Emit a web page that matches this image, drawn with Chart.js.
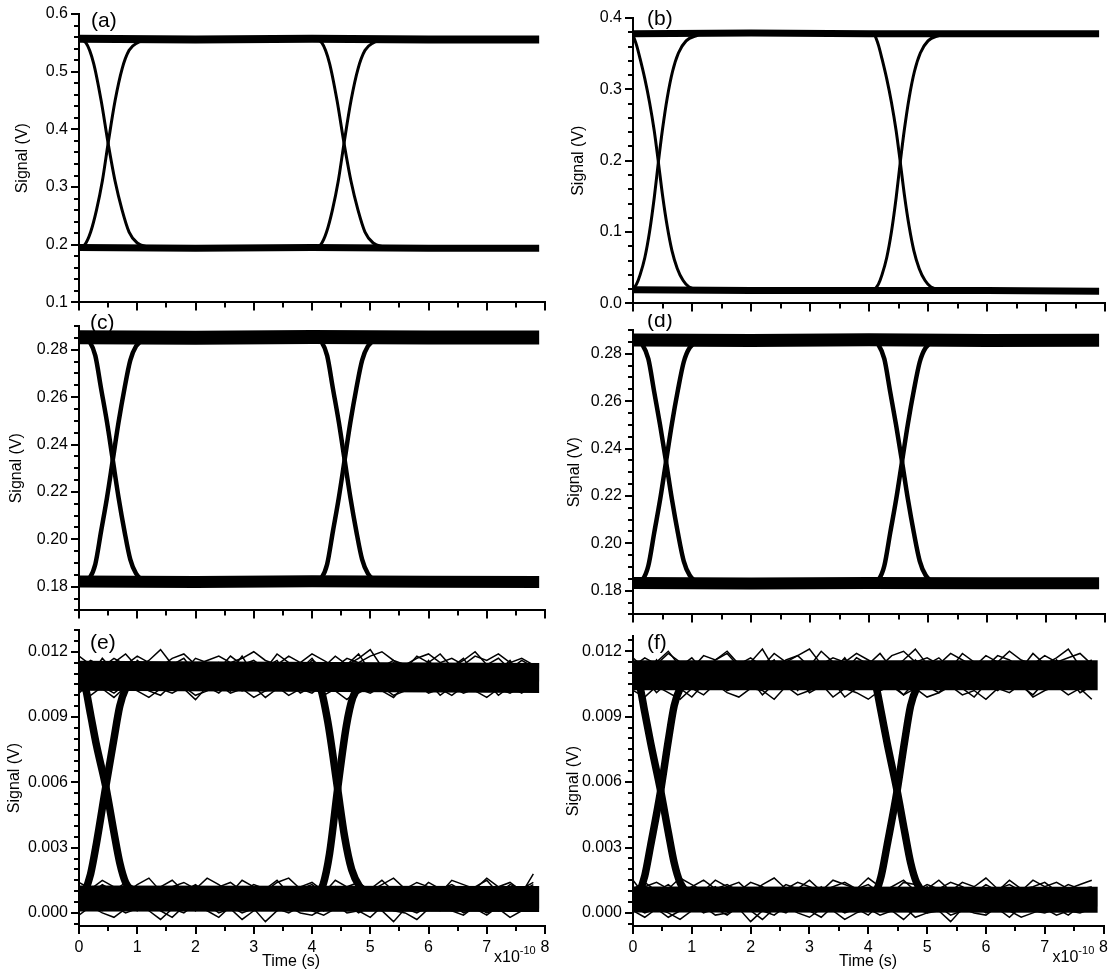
<!DOCTYPE html>
<html lang="en">
<head>
<meta charset="UTF-8">
<title>Eye diagrams (a)-(f)</title>
<script src="https://cdn.jsdelivr.net/npm/chart.js@4.4.0/dist/chart.umd.min.js"></script>
<style>
  body { margin: 0; background: #fff; }
  #wrap { position: relative; width: 1112px; height: 970px; overflow: hidden; }
  #wrap canvas { position: absolute; }
</style>
</head>
<body>
<div id="wrap"></div>
<script>
// ---------- data ----------
// time axis in units of 1e-10 s
var xTicks = [0, 1, 2, 3, 4, 5, 6, 7, 8];
var xTickLabels = ['0', '1', '2', '3', '4', '5', '6', '7', '8'];
var panelNames = ['(a)', '(b)', '(c)', '(d)', '(e)', '(f)'];

// y ticks per panel
var aTicks = [0.1, 0.2, 0.3, 0.4, 0.5, 0.6];
var aTickLabels = ['0.1', '0.2', '0.3', '0.4', '0.5', '0.6'];
var bTicks = [0, 0.1, 0.2, 0.3, 0.4];
var bTickLabels = ['0.0', '0.1', '0.2', '0.3', '0.4'];
var cdTicks = [0.18, 0.20, 0.22, 0.24, 0.26, 0.28];
var cdTickLabels = ['0.18', '0.20', '0.22', '0.24', '0.26', '0.28'];
var efTicks = [0, 0.003, 0.006, 0.009, 0.012];
var efTickLabels = ['0.000', '0.003', '0.006', '0.009', '0.012'];

// panel (a): [time, volts]
var aHigh = [[0, 0.557], [2, 0.556], [4, 0.557], [6, 0.556], [7.9, 0.556]];
var aLow = [[0, 0.195], [2, 0.194], [4, 0.195], [6, 0.194], [7.9, 0.194]];
var aFall1 = [[0, 0.556], [0.12, 0.550], [0.25, 0.515], [0.38, 0.450], [0.5, 0.376], [0.62, 0.310], [0.74, 0.260], [0.86, 0.222], [1.0, 0.203], [1.2, 0.196]];
var aRise1 = [[0, 0.195], [0.1, 0.200], [0.2, 0.222], [0.3, 0.260], [0.4, 0.310], [0.5, 0.376], [0.62, 0.450], [0.74, 0.505], [0.86, 0.537], [1.0, 0.550], [1.25, 0.555]];
var aFall2 = [[4.05, 0.556], [4.17, 0.550], [4.30, 0.515], [4.43, 0.450], [4.55, 0.376], [4.67, 0.310], [4.79, 0.260], [4.91, 0.222], [5.05, 0.203], [5.25, 0.196]];
var aRise2 = [[4.05, 0.195], [4.15, 0.200], [4.25, 0.222], [4.35, 0.260], [4.45, 0.310], [4.55, 0.376], [4.67, 0.450], [4.79, 0.505], [4.91, 0.537], [5.05, 0.550], [5.3, 0.555]];

// panel (b)
var bHigh = [[0, 0.378], [2, 0.379], [4, 0.378], [6, 0.378], [7.9, 0.378]];
var bLow = [[0, 0.019], [2, 0.018], [4, 0.018], [6, 0.018], [7.9, 0.017]];
var bFall1 = [[0, 0.376], [0.06, 0.362], [0.12, 0.343], [0.2, 0.315], [0.28, 0.282], [0.36, 0.242], [0.43, 0.198], [0.5, 0.152], [0.58, 0.108], [0.66, 0.074], [0.75, 0.049], [0.85, 0.032], [0.95, 0.023], [1.15, 0.019]];
var bRise1 = [[0, 0.020], [0.06, 0.027], [0.12, 0.040], [0.2, 0.064], [0.28, 0.100], [0.36, 0.148], [0.43, 0.198], [0.5, 0.244], [0.58, 0.288], [0.67, 0.325], [0.77, 0.351], [0.9, 0.368], [1.1, 0.376]];
var bFall2 = [[4.1, 0.376], [4.16, 0.362], [4.22, 0.343], [4.30, 0.315], [4.38, 0.282], [4.46, 0.242], [4.53, 0.198], [4.60, 0.152], [4.68, 0.108], [4.76, 0.074], [4.85, 0.049], [4.95, 0.032], [5.05, 0.023], [5.25, 0.019]];
var bRise2 = [[4.1, 0.020], [4.16, 0.027], [4.22, 0.040], [4.30, 0.064], [4.38, 0.100], [4.46, 0.148], [4.53, 0.198], [4.60, 0.244], [4.68, 0.288], [4.77, 0.325], [4.87, 0.351], [5.0, 0.368], [5.2, 0.376]];

// panel (c)
var cHigh = [[0, 0.2853], [2, 0.2850], [4, 0.2854], [6, 0.2851], [7.9, 0.2852]];
var cLow = [[0, 0.1822], [2, 0.1820], [4, 0.1823], [6, 0.1821], [7.9, 0.1820]];
var cFall1 = [[0, 0.2855], [0.1, 0.285], [0.18, 0.2835], [0.28, 0.2775], [0.38, 0.2635], [0.48, 0.2495], [0.58, 0.2335], [0.68, 0.2175], [0.78, 0.2035], [0.88, 0.1915], [0.98, 0.1855], [1.13, 0.1825], [1.3, 0.182]];
var cRise1 = [[0, 0.182], [0.1, 0.1823], [0.18, 0.1835], [0.28, 0.1895], [0.38, 0.2035], [0.48, 0.2175], [0.58, 0.2335], [0.68, 0.2495], [0.78, 0.2635], [0.88, 0.2755], [0.98, 0.2815], [1.13, 0.2845], [1.3, 0.2855]];
var cFall2 = [[3.98, 0.2855], [4.08, 0.285], [4.16, 0.2835], [4.26, 0.2775], [4.36, 0.2635], [4.46, 0.2495], [4.56, 0.2335], [4.66, 0.2175], [4.76, 0.2035], [4.86, 0.1915], [4.96, 0.1855], [5.11, 0.1825], [5.28, 0.182]];
var cRise2 = [[3.98, 0.182], [4.08, 0.1823], [4.16, 0.1835], [4.26, 0.1895], [4.36, 0.2035], [4.46, 0.2175], [4.56, 0.2335], [4.66, 0.2495], [4.76, 0.2635], [4.86, 0.2755], [4.96, 0.2815], [5.11, 0.2845], [5.28, 0.2855]];

// panel (d)
var dHigh = [[0, 0.2858], [2, 0.2856], [4, 0.2859], [6, 0.2856], [7.9, 0.2857]];
var dLow = [[0, 0.1832], [2, 0.1830], [4, 0.1833], [6, 0.1831], [7.9, 0.1831]];
var dFall1 = [[0, 0.2858], [0.08, 0.2853], [0.16, 0.2838], [0.26, 0.2778], [0.36, 0.2638], [0.46, 0.2498], [0.56, 0.2345], [0.66, 0.2185], [0.76, 0.2045], [0.86, 0.1925], [0.96, 0.1865], [1.11, 0.1835], [1.3, 0.1832]];
var dRise1 = [[0, 0.1832], [0.08, 0.1835], [0.16, 0.1845], [0.26, 0.1905], [0.36, 0.2045], [0.46, 0.2185], [0.56, 0.2345], [0.66, 0.2505], [0.76, 0.2645], [0.86, 0.2765], [0.96, 0.2825], [1.11, 0.2852], [1.3, 0.2858]];
var dFall2 = [[4.0, 0.2858], [4.08, 0.2853], [4.16, 0.2838], [4.26, 0.2778], [4.36, 0.2638], [4.46, 0.2498], [4.56, 0.2345], [4.66, 0.2185], [4.76, 0.2045], [4.86, 0.1925], [4.96, 0.1865], [5.11, 0.1835], [5.3, 0.1832]];
var dRise2 = [[4.0, 0.1832], [4.08, 0.1835], [4.16, 0.1845], [4.26, 0.1905], [4.36, 0.2045], [4.46, 0.2185], [4.56, 0.2345], [4.66, 0.2505], [4.76, 0.2645], [4.86, 0.2765], [4.96, 0.2825], [5.11, 0.2852], [5.3, 0.2858]];

// panel (e): dense cores and edges [time, volts]
var eHighCore = [[0, 0.0109], [7.9, 0.0108]];
var eLowCore = [[0, 0.00066], [7.9, 0.00064]];
var eFall1 = [[0, 0.0113], [0.1, 0.0105], [0.2, 0.0091], [0.3, 0.0077], [0.46, 0.0058], [0.6, 0.0037], [0.7, 0.0023], [0.8, 0.0014], [0.95, 0.0009], [1.1, 0.0007]];
var eRise1 = [[0, 0.0006], [0.1, 0.0010], [0.2, 0.0018], [0.3, 0.0032], [0.46, 0.0058], [0.6, 0.0080], [0.7, 0.0095], [0.8, 0.0103], [0.95, 0.0108], [1.1, 0.0109]];
var eFall2 = [[4.0, 0.0109], [4.13, 0.0105], [4.27, 0.0088], [4.44, 0.0057], [4.56, 0.0035], [4.68, 0.0020], [4.82, 0.0012], [5.0, 0.0008], [5.15, 0.0007]];
var eRise2 = [[3.95, 0.0006], [4.08, 0.0008], [4.19, 0.0013], [4.30, 0.0027], [4.44, 0.0057], [4.59, 0.0086], [4.70, 0.0099], [4.85, 0.0105], [5.05, 0.0108], [5.2, 0.0109]];

// panel (f)
var fHighCore = [[0, 0.0109], [7.9, 0.0109]];
var fLowCore = [[0, 0.00062], [7.9, 0.00060]];
var fFall1 = [[0, 0.0112], [0.1, 0.0106], [0.2, 0.0092], [0.3, 0.0078], [0.47, 0.0056], [0.6, 0.0037], [0.7, 0.0023], [0.8, 0.0014], [0.95, 0.0009], [1.1, 0.0007]];
var fRise1 = [[0, 0.0005], [0.1, 0.0009], [0.2, 0.0017], [0.3, 0.0031], [0.47, 0.0056], [0.6, 0.0079], [0.7, 0.0095], [0.8, 0.0103], [0.95, 0.0108], [1.1, 0.0109]];
var fFall2 = [[4.02, 0.0109], [4.12, 0.0105], [4.22, 0.0092], [4.32, 0.0078], [4.49, 0.0056], [4.62, 0.0037], [4.72, 0.0023], [4.82, 0.0014], [4.97, 0.0009], [5.12, 0.0007]];
var fRise2 = [[4.02, 0.0006], [4.12, 0.0009], [4.22, 0.0017], [4.32, 0.0031], [4.49, 0.0056], [4.62, 0.0079], [4.72, 0.0095], [4.82, 0.0103], [4.97, 0.0108], [5.12, 0.0109]];

// noisy single traces for (e) and (f): sample times, values in units of 0.1 mV
var noiseT = [0, 0.2, 0.4, 0.6, 0.8, 1, 1.2, 1.4, 1.6, 1.8, 2, 2.2, 2.4, 2.6, 2.8, 3, 3.2, 3.4, 3.6, 3.8,
  4, 4.2, 4.4, 4.6, 4.8, 5, 5.2, 5.4, 5.6, 5.8, 6, 6.2, 6.4, 6.6, 6.8, 7, 7.2, 7.4, 7.6, 7.8];
var eHi1 = [112,116,113,117,114,118,115,113,117,119,114,116,118,115,117,120,116,114,118,115,119,116,113,117,115,118,120,116,114,117,119,115,117,114,118,116,119,115,117,114];
var eHi2 = [103,100,104,101,105,102,99,103,101,104,100,102,105,101,103,99,102,104,100,103,101,105,102,98,103,101,104,100,102,105,101,103,100,104,102,99,103,101,104,102];
var eHi3 = [118,114,110,115,119,113,116,121,114,111,117,115,112,118,114,116,112,119,115,111,116,113,118,114,117,121,113,116,112,118,115,119,113,116,120,114,117,112,116,113];
var eHi4 = [101,106,103,99,104,107,102,100,105,103,98,104,101,106,102,104,99,103,106,101,104,100,103,107,101,104,102,99,105,102,106,100,104,101,103,106,100,104,101,105];
var eHi5 = [110,104,113,107,101,111,106,114,103,109,112,105,110,102,113,107,111,104,109,113,106,101,111,108,104,112,107,113,103,110,106,112,104,109,111,105,112,107,103,110];
var eHi6 = [115,109,117,111,106,116,112,108,114,117,110,107,115,111,118,109,113,116,108,112,117,110,106,114,119,111,108,115,112,107,116,110,113,117,109,114,111,116,108,112];
var eLo1 = [12,9,13,10,14,11,8,12,15,10,13,9,12,14,10,13,11,15,9,12,14,10,12,8,13,11,15,10,12,9,14,11,13,10,12,15,9,13,11,14];
var eLo2 = [2,4,1,3,0,2,5,1,-2,3,1,4,0,2,-3,1,4,2,0,3,1,-1,2,4,0,3,1,-4,2,0,3,1,4,0,2,-1,3,1,2,4];
var eLo3 = [8,3,6,10,4,1,7,11,5,2,9,6,3,8,12,4,7,2,10,5,8,1,6,11,3,7,9,2,5,10,6,3,8,4,11,5,1,7,9,18];
var eLo4 = [4,9,6,2,8,11,5,3,9,7,1,6,10,4,8,2,7,11,5,3,9,6,12,4,1,8,5,10,3,7,11,4,2,9,6,1,8,5,10,6];
var eLo5 = [14,11,15,12,9,13,16,10,12,14,11,16,13,9,15,12,10,14,16,11,13,9,15,12,14,10,13,16,11,14,12,9,15,13,11,16,12,14,10,13];
var eLo6 = [-1,3,0,-2,2,5,1,-3,2,0,4,1,-2,3,0,2,-4,1,3,0,-1,2,4,0,1,-2,3,1,0,-3,2,4,1,-1,3,0,2,-2,1,3];
var fHi1 = [113,117,114,119,115,112,118,116,120,114,117,113,119,115,118,121,114,117,115,119,116,113,118,120,115,117,114,119,116,113,118,115,120,116,114,118,115,117,119,114];
var fHi2 = [102,99,104,101,98,103,100,105,101,99,103,102,98,104,100,102,105,99,103,101,98,102,104,100,103,99,101,104,100,102,98,103,101,105,99,102,104,100,103,98];
var fHi3 = [117,112,115,120,113,117,111,116,119,113,115,121,112,116,118,113,120,115,111,117,114,119,112,116,121,114,117,112,119,115,113,118,116,112,119,114,117,121,113,116];
var fHi4 = [104,108,101,106,103,99,105,108,102,104,107,100,105,103,108,101,104,106,99,103,107,102,105,100,106,104,101,107,103,99,105,102,107,104,100,106,103,108,101,104];
var fHi5 = [109,114,106,111,104,112,108,103,113,107,110,105,114,109,102,111,106,113,108,104,112,109,115,106,103,110,113,107,111,105,109,114,104,110,107,112,105,109,113,107];
var fHi6 = [111,106,116,109,113,107,115,110,105,114,108,112,116,106,110,114,107,111,117,109,105,113,110,108,116,111,106,114,109,112,107,115,110,105,113,108,116,111,107,112];
var fLo1 = [11,14,10,13,9,12,15,11,13,10,14,12,9,13,11,15,10,12,14,11,13,9,12,15,10,13,11,14,12,9,13,10,15,11,12,14,10,13,11,12];
var fLo2 = [3,0,2,-2,1,4,0,2,-1,3,1,-3,2,0,4,1,-2,3,0,2,-1,4,1,-3,2,0,3,-1,1,4,0,2,-2,3,1,0,2,-1,3,1];
var fLo3 = [15,8,4,10,6,2,9,12,5,3,8,11,6,2,9,5,12,7,3,10,6,1,8,11,4,7,10,3,6,12,5,8,2,9,6,11,4,7,10,5];
var fLo4 = [6,3,9,5,1,7,10,4,2,8,5,11,3,7,1,9,4,6,10,2,7,5,9,3,6,12,4,1,8,5,10,3,7,2,9,4,8,6,3,7];
var fLo5 = [8,12,14,11,16,13,10,15,12,14,9,13,16,11,14,12,10,15,13,11,16,12,9,14,13,11,15,10,14,12,16,11,13,10,15,12,14,11,13,15];
var fLo6 = [1,-2,2,0,-3,1,3,-1,0,2,-4,1,-1,3,0,-2,2,1,-3,0,2,-1,1,3,-2,0,1,-4,2,0,-1,3,1,-2,0,2,-1,1,0,2];

// ---------- layout ----------
var FONT = '"Liberation Sans", Arial, sans-serif';
var panels = [
  { top: 14, bottom: 305, yMin: 0.1, yMax: 0.6, ticks: aTicks, labels: aTickLabels, minor: 0.02, titlePad: 13,
    bands: [[aHigh, 8], [aLow, 7]], edges: [aFall1, aRise1, aFall2, aRise2], edgeWidth: 3, noise: [], letter: [12, 13] },
  { top: 18, bottom: 306, yMin: 0, yMax: 0.4, ticks: bTicks, labels: bTickLabels, minor: 0.02, titlePad: 15,
    bands: [[bHigh, 7], [bLow, 7]], edges: [bFall1, bRise1, bFall2, bRise2], edgeWidth: 3, noise: [], letter: [14, 7] },
  { top: 326, bottom: 613, yMin: 0.17, yMax: 0.29, ticks: cdTicks, labels: cdTickLabels, minor: 0.005, titlePad: 7,
    bands: [[cHigh, 14], [cLow, 12]], edges: [cFall1, cRise1, cFall2, cRise2], edgeWidth: 4.5, noise: [], letter: [11, 3] },
  { top: 330, bottom: 617, yMin: 0.17, yMax: 0.29, ticks: cdTicks, labels: cdTickLabels, minor: 0.005, titlePad: 11,
    bands: [[dHigh, 13], [dLow, 12]], edges: [dFall1, dRise1, dFall2, dRise2], edgeWidth: 4.5, noise: [], letter: [14, -3] },
  { top: 630, bottom: 926, yMin: -0.0006, yMax: 0.013, ticks: efTicks, labels: efTickLabels, minor: 0.0005, titlePad: 5,
    bands: [[eHighCore, 30], [eLowCore, 26]], edges: [eFall1, eRise1, eFall2, eRise2], edgeWidth: 7.5,
    noise: [eHi1, eHi2, eHi3, eHi4, eHi5, eHi6, eLo1, eLo2, eLo3, eLo4, eLo5, eLo6], letter: [11, 19], timeX: 291 },
  { top: 636, bottom: 926, yMin: -0.0006, yMax: 0.0127, ticks: efTicks, labels: efTickLabels, minor: 0.0005, titlePad: 10,
    bands: [[fHighCore, 30], [fLowCore, 26]], edges: [fFall1, fRise1, fFall2, fRise2], edgeWidth: 7.5,
    noise: [fHi1, fHi2, fHi3, fHi4, fHi5, fHi6, fLo1, fLo2, fLo3, fLo4, fLo5, fLo6], letter: [14, 13], timeX: 868 }
];

function pts(arr) {
  return arr.map(function (p) { return { x: p[0], y: p[1] }; });
}
function noisePts(vals) {
  return noiseT.map(function (t, i) { return { x: t, y: vals[i] / 10000 }; });
}

var wrap = document.getElementById('wrap');

panels.forEach(function (p, i) {
  var col = i % 2;
  var last = i >= 4;
  var canvasLeft = col ? 554 : 0;
  var canvasWidth = col ? 558 : 561;
  var padRight = col ? 7 : 16;
  var padTop = 16;
  var xH = last ? 970 - p.bottom : 10;

  var canvas = document.createElement('canvas');
  canvas.width = canvasWidth;
  canvas.height = padTop + (p.bottom - p.top) + xH;
  canvas.style.left = canvasLeft + 'px';
  canvas.style.top = (p.top - padTop) + 'px';
  wrap.appendChild(canvas);

  var datasets = [];
  p.bands.forEach(function (b) {
    datasets.push({ data: pts(b[0]), borderColor: '#000', borderWidth: b[1], borderCapStyle: 'butt', pointRadius: 0, tension: 0 });
  });
  p.noise.forEach(function (n) {
    datasets.push({ data: noisePts(n), borderColor: '#000', borderWidth: 1.5, pointRadius: 0, tension: 0 });
  });
  p.edges.forEach(function (e) {
    datasets.push({ data: pts(e), borderColor: '#000', borderWidth: p.edgeWidth, pointRadius: 0, cubicInterpolationMode: 'monotone' });
  });

  // minor ticks, panel letter, time title and the x10^-10 exponent
  var decor = {
    id: 'decor' + i,
    afterDraw: function (chart) {
      var ctx = chart.ctx, a = chart.chartArea, xs = chart.scales.x, ys = chart.scales.y;
      ctx.save();
      ctx.strokeStyle = '#000';
      ctx.lineWidth = 2;
      ctx.beginPath();
      for (var k = Math.ceil(p.yMin / p.minor - 1e-6); k * p.minor <= p.yMax + 1e-9; k++) {
        var y = Math.round(ys.getPixelForValue(k * p.minor));
        ctx.moveTo(a.left - 5, y);
        ctx.lineTo(a.left, y);
      }
      for (var j = 1; j < 16; j += 2) {
        var x = Math.round(xs.getPixelForValue(j * 0.5));
        ctx.moveTo(x, a.bottom);
        ctx.lineTo(x, a.bottom + 5);
      }
      ctx.stroke();
      ctx.fillStyle = '#000';
      ctx.textBaseline = 'alphabetic';
      ctx.font = '21px ' + FONT;
      ctx.fillText(panelNames[i], a.left + p.letter[0], a.top + p.letter[1]);
      if (last) {
        ctx.font = '16px ' + FONT;
        ctx.textAlign = 'center';
        ctx.fillText('Time (s)', p.timeX - (col ? 554 : 0), a.bottom + 40);
        ctx.textAlign = 'left';
        var ex = a.right - 51;
        ctx.fillText('x10', ex, a.bottom + 36);
        var w = ctx.measureText('x10').width;
        ctx.font = '11px ' + FONT;
        ctx.fillText('-10', ex + w, a.bottom + 28);
      }
      ctx.restore();
    }
  };

  new Chart(canvas, {
    type: 'line',
    data: { datasets: datasets },
    options: {
      responsive: false,
      animation: false,
      devicePixelRatio: 1,
      layout: { padding: { top: padTop, right: padRight, left: 0, bottom: 0 } },
      plugins: { legend: { display: false }, tooltip: { enabled: false } },
      scales: {
        x: {
          type: 'linear', min: 0, max: 8,
          afterFit: function (s) { s.height = xH; },
          afterBuildTicks: function (s) { s.ticks = xTicks.map(function (v) { return { value: v }; }); },
          grid: { drawOnChartArea: false, drawTicks: true, tickLength: 8, color: '#000', lineWidth: 2 },
          border: { display: true, color: '#000', width: 2 },
          ticks: {
            display: last, autoSkip: false, maxRotation: 0, padding: 4, color: '#000',
            font: { family: FONT, size: 16 },
            callback: function (v, idx) { return xTickLabels[idx]; }
          },
          title: { display: false }
        },
        y: {
          type: 'linear', min: p.yMin, max: p.yMax,
          afterFit: function (s) { s.width = 79; },
          afterBuildTicks: function (s) { s.ticks = p.ticks.map(function (v) { return { value: v }; }); },
          grid: { drawOnChartArea: false, drawTicks: true, tickLength: 8, color: '#000', lineWidth: 2 },
          border: { display: true, color: '#000', width: 2 },
          ticks: {
            padding: 3, color: '#000', font: { family: FONT, size: 16 },
            callback: function (v, idx) { return p.labels[idx]; }
          },
          title: { display: true, text: 'Signal (V)', color: '#000', font: { family: FONT, size: 16 }, padding: { top: p.titlePad, bottom: 0 } }
        }
      }
    },
    plugins: [decor]
  });
});
</script>
</body>
</html>
